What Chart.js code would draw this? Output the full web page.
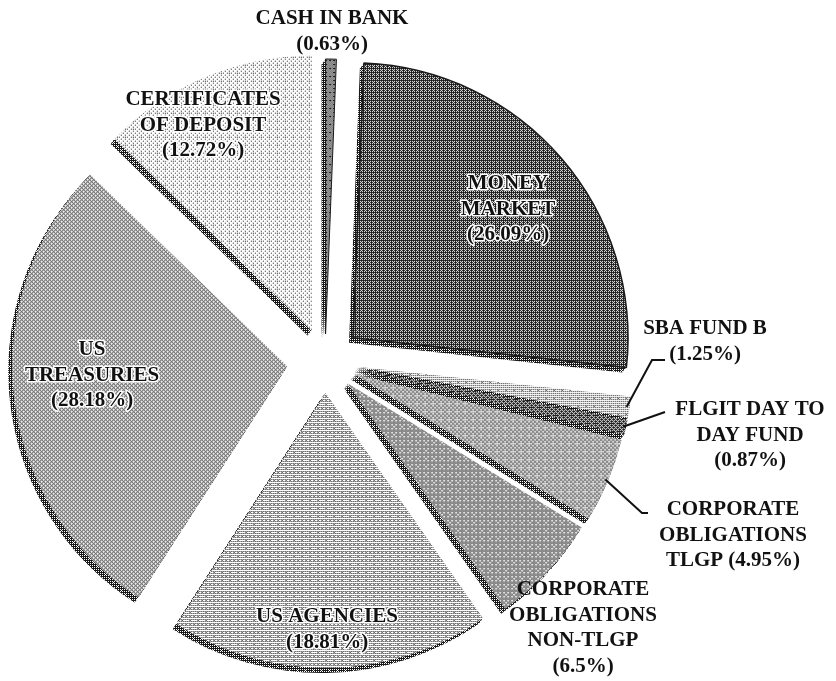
<!DOCTYPE html>
<html>
<head>
<meta charset="utf-8">
<script src="https://cdn.jsdelivr.net/npm/chart.js@4.4.0/dist/chart.umd.min.js"></script>
<style>
  html, body { margin: 0; padding: 0; background: #ffffff; }
  #wrap { width: 836px; height: 681px; }
</style>
</head>
<body>
<div id="wrap"><canvas id="c" width="836" height="681"></canvas></div>
<script>
// ---------------- DATA ----------------
const categories = [
  'CASH IN BANK', 'MONEY MARKET', 'SBA FUND B', 'FLGIT DAY TO DAY FUND',
  'CORPORATE OBLIGATIONS TLGP', 'CORPORATE OBLIGATIONS NON-TLGP',
  'US AGENCIES', 'US TREASURIES', 'CERTIFICATES OF DEPOSIT'
];
const values = [0.63, 26.09, 1.25, 0.87, 4.95, 6.5, 18.81, 28.18, 12.72];
// displayed label text ({p} = the percentage of the slice)
const labelLines = [
  ['CASH IN BANK', '{p}'],
  ['MONEY', 'MARKET', '{p}'],
  ['SBA FUND B', '{p}'],
  ['FLGIT DAY TO', 'DAY FUND', '{p}'],
  ['CORPORATE', 'OBLIGATIONS', 'TLGP {p}'],
  ['CORPORATE', 'OBLIGATIONS', 'NON-TLGP', '{p}'],
  ['US AGENCIES', '{p}'],
  ['US', 'TREASURIES', '{p}'],
  ['CERTIFICATES', 'OF DEPOSIT', '{p}']
];

// ---------------- STYLE / LAYOUT ----------------
const grayLevels = [0.55, 0.68, 0.26, 0.64, 0.36, 0.42, 0.30, 0.38, 0.14]; // dither darkness
const borderWidths = [1, 1.5, 0, 0, 0, 0, 0, 0, 0];
const wallLevel = 0.72;
const explode = [28, 37, 33, 33, 32, 31, 31, 38, 34];   // px each slice is pulled out
const extrude = { dx: -4, dy: 5, steps: 6 };           // 3D side wall
// first-line position of each label, relative to pie centre
const labelPos = [
  [7, -345], [183, -180], [380, -35], [425, 46], [408, 146],
  [258, 226], [2, 253], [-233, -14], [-122, -264]
];
const lineH = 25.5;
const haloLabels = [false, true, false, false, false, false, true, true, true];
// leader lines: points relative to pie centre, ending on the slice
const leaders = {
  2: [[340, -2], [327, -2]],
  3: [[340, 50]],
  4: [[323, 151], [317, 151]]
};

const canvas = document.getElementById('c');
const mainCtx = canvas.getContext('2d');

function bayer(n) {
  let m = [[0]];
  while (m.length < n) {
    const s = m.length, r = [];
    for (let y = 0; y < 2 * s; y++) {
      r.push([]);
      for (let x = 0; x < 2 * s; x++) {
        const q = [[0, 2], [3, 1]][Math.floor(y / s)][Math.floor(x / s)];
        r[y].push(4 * m[y % s][x % s] + q);
      }
    }
    m = r;
  }
  return m;
}
const B = bayer(8);
function dither(level) {
  const c = document.createElement('canvas');
  c.width = 8; c.height = 8;
  const g = c.getContext('2d');
  const img = g.createImageData(8, 8);
  for (let y = 0; y < 8; y++) {
    for (let x = 0; x < 8; x++) {
      const on = (B[y][x] + 0.5) / 64 < level;
      const v = on ? 25 : 255;
      const k = (y * 8 + x) * 4;
      img.data[k] = v; img.data[k + 1] = v; img.data[k + 2] = v; img.data[k + 3] = 255;
    }
  }
  g.putImageData(img, 0, 0);
  return mainCtx.createPattern(c, 'repeat');
}
const fills = grayLevels.map(dither);
const wallFill = dither(wallLevel);

const explodePlugin = {
  id: 'explode',
  beforeDatasetDraw(chart, args) {
    const ctx = chart.ctx;
    const arcs = args.meta.data;
    // side walls
    ctx.save();
    ctx.fillStyle = wallFill;
    arcs.forEach((arc, i) => {
      const mid = (arc.startAngle + arc.endAngle) / 2;
      const ox = Math.cos(mid) * explode[i], oy = Math.sin(mid) * explode[i];
      for (let k = 1; k <= extrude.steps; k++) {
        const px = arc.x + ox + extrude.dx * k / extrude.steps;
        const py = arc.y + oy + extrude.dy * k / extrude.steps;
        ctx.beginPath();
        ctx.moveTo(px, py);
        ctx.arc(px, py, arc.outerRadius, arc.startAngle, arc.endAngle);
        ctx.closePath();
        ctx.fill();
      }
    });
    ctx.restore();
    // slice tops
    arcs.forEach((arc, i) => {
      const mid = (arc.startAngle + arc.endAngle) / 2;
      ctx.save();
      ctx.translate(Math.cos(mid) * explode[i], Math.sin(mid) * explode[i]);
      arc.draw(ctx);
      ctx.restore();
    });
    return false;
  }
};

const labelPlugin = {
  id: 'sliceLabels',
  afterDatasetsDraw(chart) {
    const ctx = chart.ctx;
    const arcs = chart.getDatasetMeta(0).data;
    const cx = arcs[0].x, cy = arcs[0].y;
    ctx.save();
    // leader lines
    ctx.strokeStyle = '#111';
    ctx.lineWidth = 2;
    Object.keys(leaders).forEach(key => {
      const i = +key;
      const arc = arcs[i];
      const mid = (arc.startAngle + arc.endAngle) / 2;
      const r = arc.outerRadius + explode[i] - 3;
      ctx.beginPath();
      leaders[i].forEach((p, j) => {
        if (j === 0) ctx.moveTo(cx + p[0], cy + p[1]);
        else ctx.lineTo(cx + p[0], cy + p[1]);
      });
      ctx.lineTo(cx + Math.cos(mid) * r, cy + Math.sin(mid) * r);
      ctx.stroke();
    });
    // text
    ctx.font = 'bold 21px "Liberation Serif", "Times New Roman", serif';
    ctx.textAlign = 'center';
    ctx.textBaseline = 'alphabetic';
    ctx.lineJoin = 'round';
    labelLines.forEach((lines, i) => {
      const pct = '(' + values[i] + '%)';
      lines.forEach((t, j) => {
        const text = t.replace('{p}', pct);
        const x = cx + labelPos[i][0];
        const y = cy + labelPos[i][1] + j * lineH + 7;
        if (haloLabels[i]) {
          ctx.strokeStyle = '#ffffff';
          ctx.lineWidth = 3;
          ctx.strokeText(text, x, y);
        }
        ctx.fillStyle = '#111';
        ctx.fillText(text, x, y);
      });
    });
    ctx.restore();
  }
};

new Chart(canvas, {
  type: 'pie',
  data: {
    labels: categories,
    datasets: [{
      data: values,
      backgroundColor: fills,
      borderColor: '#1a1a1a',
      borderWidth: borderWidths
    }]
  },
  options: {
    responsive: false,
    animation: false,
    radius: 275,
    layout: { padding: { left: 0, right: 186, top: 43, bottom: 0 } },
    plugins: {
      legend: { display: false },
      tooltip: { enabled: false }
    }
  },
  plugins: [explodePlugin, labelPlugin]
});
</script>
</body>
</html>
